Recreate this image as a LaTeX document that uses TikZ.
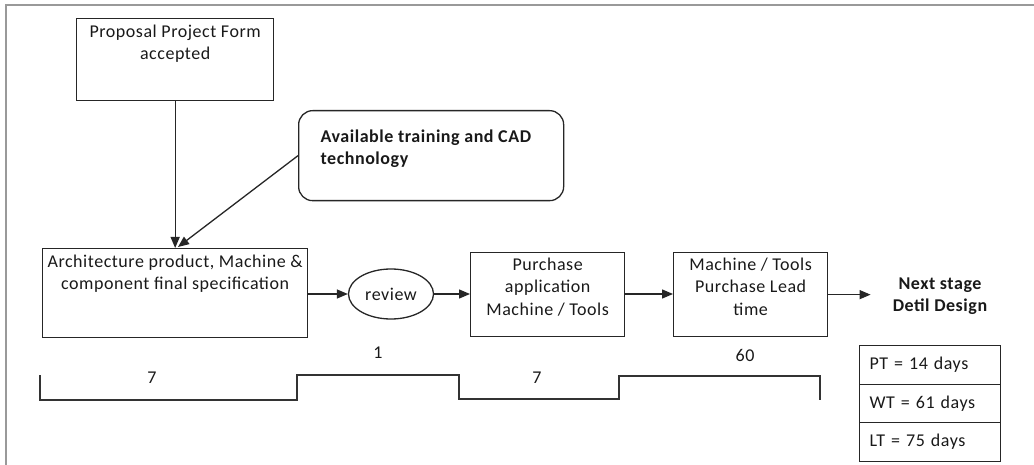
\documentclass[tikz,border=0pt]{standalone}
\usepackage{fontspec}
\setmainfont{Carlito}[LetterSpace=3]
\usetikzlibrary{arrows.meta,shapes.geometric}
\newcommand{\tbox}[4]{\parbox[t][#2][t]{#1}{\vspace*{#3}\centering #4}}
\begin{document}
\begin{tikzpicture}[x=1pt,y=-1pt,
  every node/.style={font=\fontsize{18}{22.5}\selectfont, text=black!90},
  boxst/.style={draw=black!85, line width=1.3pt, inner sep=0pt, anchor=north west},
  arr/.style={draw=black!85, line width=1.3pt, -{Triangle[length=11pt,width=9pt]}},
  cell/.style={draw=black!85, line width=1.3pt, anchor=north west, minimum width=141pt, minimum height=38.5pt, text width=121pt, inner xsep=10pt, align=left},
  lbl/.style={inner sep=0pt}]
\useasboundingbox (0,0) rectangle (1034,465);
\draw[black!40, line width=2pt] (6,465) -- (6,5) -- (1034,5);

\node[boxst] (prop) at (76,18) {\tbox{197pt}{82pt}{6pt}{Proposal Project Form\\accepted}};
\node[boxst, rounded corners=14pt] (avail) at (298,110)
  {\parbox[t][90pt][t]{265pt}{\vspace*{19pt}\raggedright\leftskip=22pt\bfseries Available training and CAD\\technology}};
\node[boxst] (arch) at (42,248) {\tbox{265pt}{89pt}{6pt}{Architecture product, Machine \&\\component final specification}};
\node[draw=black!85, line width=1.3pt, ellipse, minimum width=85pt, minimum height=50pt, inner sep=0pt] (review) at (391,294) {review};
\node[boxst] (purch) at (470,252) {\tbox{154pt}{84pt}{5pt}{Purchase\\application\\Machine / Tools}};
\node[boxst] (mach) at (673,252) {\tbox{154pt}{84pt}{5pt}{Machine / Tools\\Purchase Lead\\time}};
\node[align=center, font=\fontsize{18}{22.5}\selectfont\bfseries, inner sep=0pt] (next) at (940,296) {Next stage\\Detil Design};

\node[cell] (pt) at (859,345) {PT = 14 days};
\node[cell] (wt) at (859,383.5) {WT = 61 days};
\node[cell] (lt) at (859,422) {LT = 75 days};

\node[lbl] (n1) at (378,353) {1};
\node[lbl] (n7a) at (152,378) {7};
\node[lbl] (n7b) at (537,378) {7};
\node[lbl] (n60) at (745,355) {60};

\coordinate (archin) at (178,247);
\draw[arr] (prop.south) -- (arch.north -| prop.south);
\draw[arr] (avail.west) -- (archin);
\draw[arr] (arch.east |- review.west) -- (review.west);
\draw[arr] (review.east) -- (purch.west |- review.east);
\draw[arr] (purch.east |- review.east) -- (mach.west |- review.east);
\draw[arr, shorten >=22pt] (mach.east) -- (next.west |- mach.east);

\draw[black!80, line width=1.3pt] (40,375) -- (40,400) -- (297,400) -- (297,375) -- (459,375) -- (459,399) -- (619,399) -- (619,376) -- (820,376) -- (820,400);
\end{tikzpicture}
\end{document}
